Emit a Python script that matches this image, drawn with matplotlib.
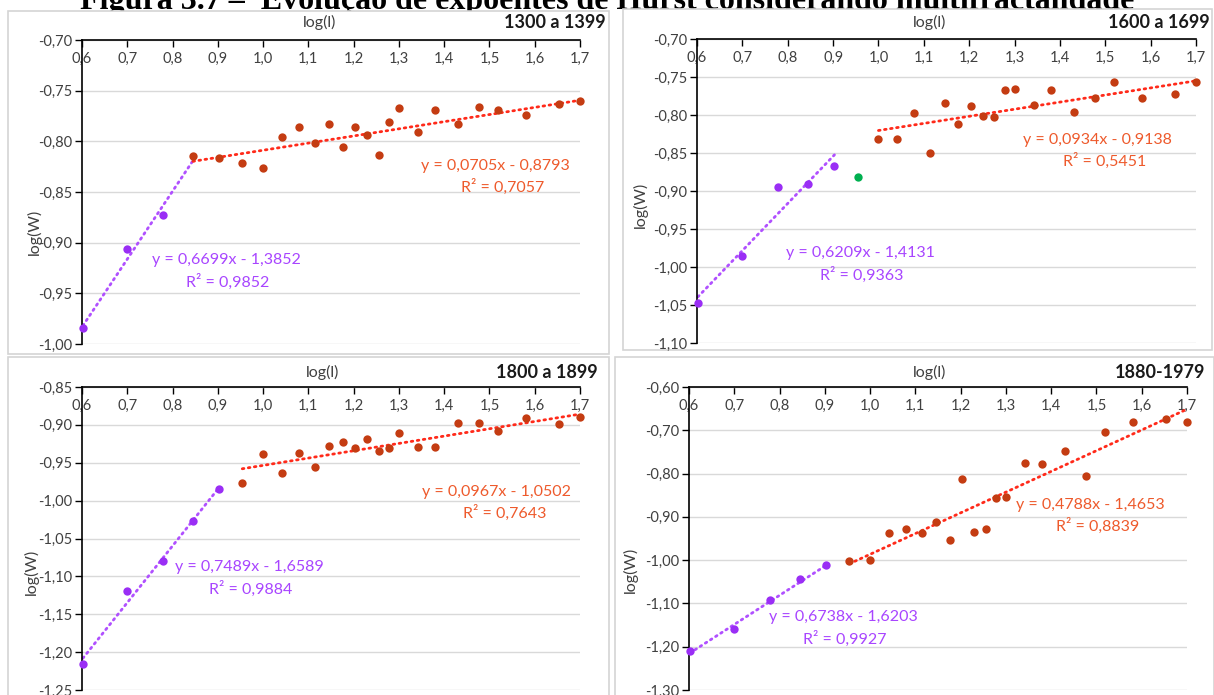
import matplotlib
matplotlib.use("Agg")
import matplotlib.pyplot as plt
from matplotlib.patches import Rectangle
from matplotlib.ticker import FuncFormatter
import numpy as np

W, H = 1214, 695

# ---------------- data ----------------
# Panel 1: 1300 a 1399
p1_purple_x = [0.602, 0.699, 0.778]
p1_purple_y = [-0.984, -0.906, -0.873]
p1_red_x = [0.845, 0.903, 0.954, 1.000, 1.041, 1.079, 1.114, 1.146, 1.176, 1.204, 1.230, 1.255,
            1.279, 1.301, 1.342, 1.380, 1.431, 1.477, 1.519, 1.580, 1.653, 1.699]
p1_red_y = [-0.814, -0.816, -0.821, -0.826, -0.796, -0.786, -0.802, -0.783, -0.806, -0.786, -0.794, -0.813,
            -0.781, -0.767, -0.791, -0.769, -0.783, -0.766, -0.769, -0.774, -0.763, -0.760]
p1_fit_purple = (0.6699, -1.3852, 0.9852, 0.602, 0.845)
p1_fit_red = (0.0705, -0.8793, 0.7057, 0.845, 1.699)

# Panel 2: 1600 a 1699
p2_purple_x = [0.602, 0.699, 0.778, 0.845, 0.903]
p2_purple_y = [-1.047, -0.986, -0.895, -0.891, -0.867]
p2_green_x = [0.954]
p2_green_y = [-0.882]
p2_red_x = [1.000, 1.041, 1.079, 1.114, 1.146, 1.176, 1.204, 1.230, 1.255, 1.279, 1.301, 1.342,
            1.380, 1.431, 1.477, 1.519, 1.580, 1.653, 1.699]
p2_red_y = [-0.831, -0.831, -0.797, -0.850, -0.784, -0.812, -0.788, -0.801, -0.803, -0.767, -0.766, -0.787,
            -0.767, -0.796, -0.777, -0.756, -0.778, -0.772, -0.756]
p2_fit_purple = (0.6209, -1.4131, 0.9363, 0.602, 0.903)
p2_fit_red = (0.0934, -0.9138, 0.5451, 1.000, 1.699)

# Panel 3: 1800 a 1899
p3_purple_x = [0.602, 0.699, 0.778, 0.845, 0.903]
p3_purple_y = [-1.216, -1.119, -1.080, -1.027, -0.985]
p3_red_x = [0.954, 1.000, 1.041, 1.079, 1.114, 1.146, 1.176, 1.204, 1.230, 1.255, 1.279, 1.301, 1.342,
            1.380, 1.431, 1.477, 1.519, 1.580, 1.653, 1.699]
p3_red_y = [-0.977, -0.939, -0.964, -0.937, -0.956, -0.928, -0.923, -0.931, -0.919, -0.935, -0.931, -0.911, -0.929,
            -0.929, -0.897, -0.897, -0.908, -0.891, -0.899, -0.890]
p3_fit_purple = (0.7489, -1.6589, 0.9884, 0.602, 0.903)
p3_fit_red = (0.0967, -1.0502, 0.7643, 0.954, 1.699)

# Panel 4: 1880-1979
p4_purple_x = [0.602, 0.699, 0.778, 0.845, 0.903]
p4_purple_y = [-1.209, -1.160, -1.091, -1.044, -1.011]
p4_red_x = [0.954, 1.000, 1.041, 1.079, 1.114, 1.146, 1.176, 1.204, 1.230, 1.255, 1.279, 1.301, 1.342,
            1.380, 1.431, 1.477, 1.519, 1.580, 1.653, 1.699]
p4_red_y = [-1.001, -0.999, -0.938, -0.929, -0.938, -0.913, -0.953, -0.813, -0.936, -0.929, -0.856, -0.853, -0.776,
            -0.779, -0.747, -0.806, -0.704, -0.682, -0.673, -0.682]
p4_fit_purple = (0.6738, -1.6203, 0.9927, 0.602, 0.903)
p4_fit_red = (0.4788, -1.4653, 0.8839, 0.954, 1.699)

titles = ["1300 a 1399", "1600 a 1699", "1800 a 1899", "1880-1979"]
x_ticks = [0.6, 0.7, 0.8, 0.9, 1.0, 1.1, 1.2, 1.3, 1.4, 1.5, 1.6, 1.7]
y_ranges = [(-1.00, -0.70, 0.05), (-1.10, -0.70, 0.05), (-1.25, -0.85, 0.05), (-1.30, -0.60, 0.10)]
fig_title = "Figura 3.7 \u2013  Evolução de expoentes de Hurst considerando multifractalidade"

# ---------------- style ----------------
RED_DOT = "#C43C12"
RED_LINE = "#FF2A1A"
RED_TXT = "#EE5A2C"
PUR_DOT = "#9A2EF5"
PUR_LINE = "#B050FF"
PUR_TXT = "#A845FF"
GREEN = "#00B050"
GRID = "#D9D9D9"
TXT = "#404040"
FONT = "Lato"

plt.rcParams['font.family'] = [FONT, 'DejaVu Sans']

fig = plt.figure(figsize=(W / 100, H / 100), dpi=100)


def fx(px):
    return px / W


def fy(py):
    return 1 - py / H


# main title (cut off at the top edge, as in the reference)
fig.text(fx(607), fy(9), fig_title, fontsize=23, fontweight='bold', family='Liberation Serif',
         ha='center', va='baseline', color='black', zorder=0)

# panel frames (pixels: left, top, right, bottom) with white fill covering title bottom
frames = [(8, 11, 609, 354), (623, 9, 1212, 350), (8, 357, 609, 700), (615, 357, 1214, 700)]
for (l, t, r, b) in frames:
    fig.patches.append(Rectangle((fx(l), fy(b)), fx(r - l), (b - t) / H, transform=fig.transFigure,
                                 facecolor="white", edgecolor="#D4D4D4", linewidth=1.2, zorder=1))

# axes rectangles in pixels: left, top, right, bottom
ax_px = [(82, 40, 580, 344), (697, 39, 1196, 343), (82, 387, 580, 690), (689, 387, 1187, 690)]

comma = FuncFormatter(lambda v, p: ("%.2f" % v).replace(".", ","))
commax = FuncFormatter(lambda v, p: ("%.1f" % v).replace(".", ","))

panels = [
    dict(pur=(p1_purple_x, p1_purple_y), red=(p1_red_x, p1_red_y), green=None, fp=p1_fit_purple, fr=p1_fit_red),
    dict(pur=(p2_purple_x, p2_purple_y), red=(p2_red_x, p2_red_y), green=(p2_green_x, p2_green_y), fp=p2_fit_purple, fr=p2_fit_red),
    dict(pur=(p3_purple_x, p3_purple_y), red=(p3_red_x, p3_red_y), green=None, fp=p3_fit_purple, fr=p3_fit_red),
    dict(pur=(p4_purple_x, p4_purple_y), red=(p4_red_x, p4_red_y), green=None, fp=p4_fit_purple, fr=p4_fit_red),
]

# text positions (pixel centers): red eq, purple eq, title right edge, log(l), log(W)
red_eq_px = [(495, 166), (1097, 140), (497, 492), (1090, 505)]
pur_eq_px = [(226, 260), (860, 253), (249, 567), (843, 617)]
title_px = [(606, 22), (1210, 22), (598, 372), (1205, 372)]
xlab_px = [(320, 22), (930, 22), (323, 372), (930, 372)]
ylab_px = [(34, 232), (640, 205), (31, 572), (630, 570)]

for i, pnl in enumerate(panels):
    l, t, r, b = ax_px[i]
    ax = fig.add_axes([fx(l), fy(b), fx(r - l), (b - t) / H])
    ax.set_zorder(2)
    ymin, ymax, step = y_ranges[i]
    ax.set_xlim(0.6, 1.7)
    ax.set_ylim(ymin, ymax)
    ax.set_yticks(np.arange(ymin, ymax + step / 2, step))
    ax.set_xticks(x_ticks)
    ax.yaxis.set_major_formatter(comma)
    ax.xaxis.set_major_formatter(commax)
    ax.xaxis.tick_top()
    for s in ["right", "bottom"]:
        ax.spines[s].set_visible(False)
    for s in ["left", "top"]:
        ax.spines[s].set_color("black")
        ax.spines[s].set_linewidth(1.2)
        ax.spines[s].set_zorder(3)
    ax.tick_params(axis='x', direction='in', length=5, width=1, pad=-19, labelsize=10.5,
                   labelcolor=TXT, color='black')
    ax.tick_params(axis='y', direction='out', length=5, width=1, pad=2, labelsize=10.5,
                   labelcolor=TXT, color='black')
    ax.yaxis.grid(True, color=GRID, linewidth=1)
    ax.set_axisbelow(True)
    ax.patch.set_alpha(0)

    # trendlines
    for fit, col in ((pnl['fp'], PUR_LINE), (pnl['fr'], RED_LINE)):
        m, c, r2, x0, x1 = fit
        xs = np.array([x0, x1])
        ax.plot(xs, m * xs + c, color=col, linewidth=2.0, linestyle=(0, (0.6, 1.6)),
                dash_capstyle='round', zorder=2, clip_on=False)

    ax.scatter(*pnl['pur'], s=36, color=PUR_DOT, zorder=4, clip_on=False, linewidths=0)
    ax.scatter(*pnl['red'], s=36, color=RED_DOT, zorder=4, clip_on=False, linewidths=0)
    if pnl['green'] is not None:
        ax.scatter(*pnl['green'], s=36, color=GREEN, zorder=4, clip_on=False, linewidths=0)

    # equations
    m, c, r2 = pnl['fr'][:3]
    rx, ry = red_eq_px[i]
    fig.text(fx(rx), fy(ry), ("y = %.4fx - %.4f" % (m, -c)).replace(".", ","), color=RED_TXT,
             fontsize=11.5, ha='center', va='center', zorder=5)
    fig.text(fx(rx + 8), fy(ry + 21), ("R² = %.4f" % r2).replace(".", ","), color=RED_TXT,
             fontsize=11.5, ha='center', va='center', zorder=5)
    m, c, r2 = pnl['fp'][:3]
    px_, py_ = pur_eq_px[i]
    fig.text(fx(px_), fy(py_), ("y = %.4fx - %.4f" % (m, -c)).replace(".", ","), color=PUR_TXT,
             fontsize=11.5, ha='center', va='center', zorder=5)
    fig.text(fx(px_ + 2), fy(py_ + 22), ("R² = %.4f" % r2).replace(".", ","), color=PUR_TXT,
             fontsize=11.5, ha='center', va='center', zorder=5)

    tx, ty = title_px[i]
    fig.text(fx(tx), fy(ty), titles[i], fontsize=13, fontweight='bold', ha='right', va='center',
             color='#1a1a1a', zorder=5)
    lx, ly = xlab_px[i]
    fig.text(fx(lx), fy(ly), "log(l)", fontsize=11.5, ha='center', va='center', color=TXT, zorder=5)
    yx, yy = ylab_px[i]
    fig.text(fx(yx), fy(yy), "log(W)", fontsize=11.5, ha='center', va='center', rotation=90,
             color=TXT, zorder=5)

fig.savefig("out.png", dpi=100)
